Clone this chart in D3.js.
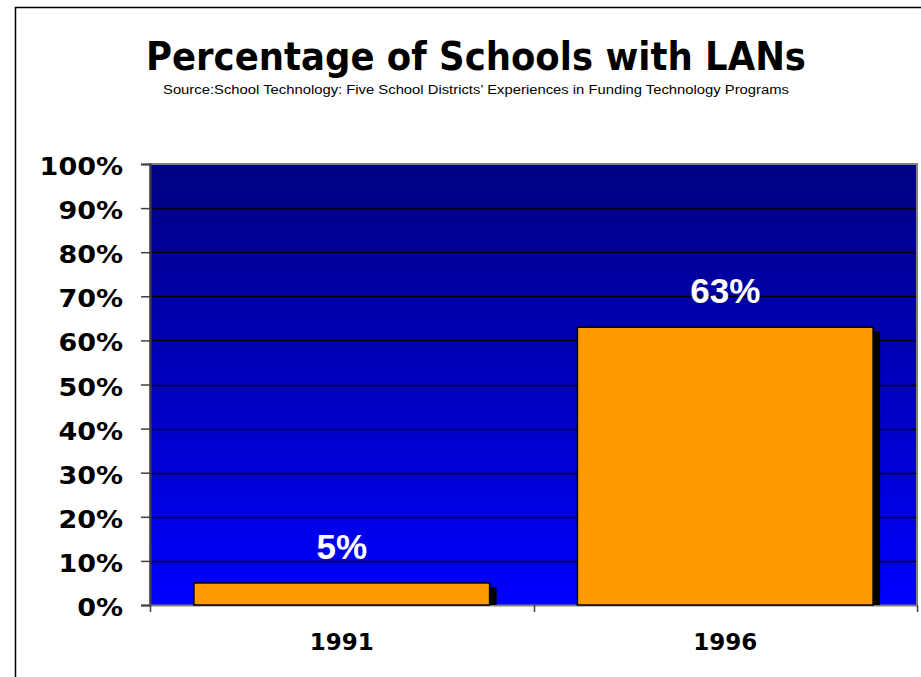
<!DOCTYPE html>
<html>
<head>
<meta charset="utf-8">
<script src="https://cdn.jsdelivr.net/npm/d3@7"></script>
<style>
  html, body { margin: 0; padding: 0; background: #fff; }
  svg { display: block; }
</style>
</head>
<body>
<svg id="chart" width="921" height="677"></svg>
<script>
// Chart data
const titleText = "Percentage of Schools with LANs";
const subtitleText = "Source:School Technology:  Five School Districts\u2019 Experiences in Funding Technology Programs";
const years = ["1991", "1996"];
const lanShare = [5, 63];
const yTicks = [0, 10, 20, 30, 40, 50, 60, 70, 80, 90, 100];

const svg = d3.select("#chart");
const plot = { left: 150, right: 917, top: 164, bottom: 605 };

// Outer frame (runs off the right and bottom edges)
svg.append("rect")
  .attr("x", 15.5).attr("y", 7.5)
  .attr("width", 940).attr("height", 700)
  .attr("fill", "#fff").attr("stroke", "#000").attr("stroke-width", 1.5);

// Title and source line, stretched to their printed widths
svg.append("text")
  .attr("x", 476).attr("y", 70)
  .attr("text-anchor", "middle")
  .attr("font-family", "DejaVu Sans, Verdana, sans-serif")
  .attr("font-weight", "bold")
  .attr("font-size", 39)
  .attr("fill", "#000")
  .attr("textLength", 660).attr("lengthAdjust", "spacingAndGlyphs")
  .text(titleText);

svg.append("text")
  .attr("x", 476).attr("y", 94)
  .attr("text-anchor", "middle")
  .attr("font-family", "Liberation Sans, Arial, sans-serif")
  .attr("font-size", 12)
  .attr("fill", "#000")
  .attr("textLength", 626).attr("lengthAdjust", "spacingAndGlyphs")
  .text(subtitleText);

// Scales
const x = d3.scaleBand().domain(years)
  .range([plot.left, plot.right])
  .paddingInner(0.229).paddingOuter(0.1145);
const xCat = d3.scaleBand().domain(years).range([plot.left, plot.right]);
const y = d3.scaleLinear().domain([0, 100]).range([plot.bottom, plot.top]);

// Plot background gradient
const defs = svg.append("defs");
const grad = defs.append("linearGradient")
  .attr("id", "plotBg").attr("x1", 0).attr("y1", 0).attr("x2", 0).attr("y2", 1);
grad.append("stop").attr("offset", "0%").attr("stop-color", "#000080");
grad.append("stop").attr("offset", "100%").attr("stop-color", "#0000FF");

svg.append("rect")
  .attr("x", plot.left).attr("y", plot.top)
  .attr("width", plot.right - plot.left).attr("height", plot.bottom - plot.top)
  .attr("fill", "url(#plotBg)");

// Gridlines
svg.append("g").selectAll("line")
  .data(yTicks.filter(t => t > 0 && t < 100))
  .join("line")
  .attr("x1", plot.left).attr("x2", plot.right)
  .attr("y1", d => Math.round(y(d)) + 0.5).attr("y2", d => Math.round(y(d)) + 0.5)
  .attr("stroke", "#000").attr("stroke-width", 1.5);

// Plot border
svg.append("path")
  .attr("d", `M${plot.left},${plot.bottom} V${plot.top} H${plot.right} V${plot.bottom}`)
  .attr("fill", "none").attr("stroke", "#808080").attr("stroke-width", 2);

// Y axis
const yAxis = svg.append("g")
  .attr("transform", `translate(${plot.left},0)`)
  .call(d3.axisLeft(y).tickValues(yTicks).tickFormat(d => d + "%").tickSize(9).tickPadding(18));
yAxis.select(".domain").attr("stroke", "#404040").attr("stroke-width", 2);
yAxis.selectAll(".tick line").attr("stroke", "#404040").attr("stroke-width", 1.5);
yAxis.selectAll(".tick text")
  .attr("font-family", "DejaVu Sans, Verdana, sans-serif")
  .attr("font-weight", "bold")
  .attr("font-size", 25)
  .attr("fill", "#000")
  .attr("textLength", function () { return this.getComputedTextLength() * 1.08; })
  .attr("lengthAdjust", "spacingAndGlyphs")
  .attr("dy", "0.42em");

// X axis
const xAxis = svg.append("g")
  .attr("transform", `translate(0,${plot.bottom})`)
  .call(d3.axisBottom(xCat).tickSize(0).tickPadding(29));
xAxis.select(".domain").attr("stroke", "#808080").attr("stroke-width", 2);
xAxis.selectAll(".tick text")
  .attr("font-family", "DejaVu Sans, Verdana, sans-serif")
  .attr("font-weight", "bold")
  .attr("font-size", 23)
  .attr("fill", "#000");
// Category separator ticks
const sepTicks = [plot.left, ...years.slice(1).map(d => xCat(d)), plot.right];
svg.append("g").selectAll("line").data(sepTicks).join("line")
  .attr("x1", d => Math.round(d) + 0.5).attr("x2", d => Math.round(d) + 0.5)
  .attr("y1", plot.bottom).attr("y2", plot.bottom + 7)
  .attr("stroke", "#404040").attr("stroke-width", 1.5);

// Bars with drop shadows
const rows = years.map((yr, i) => ({ year: yr, value: lanShare[i] }));
const bars = svg.append("g");
bars.selectAll("rect.shadow").data(rows).join("rect")
  .attr("class", "shadow")
  .attr("x", d => x(d.year) + 7)
  .attr("y", d => y(d.value) + 4)
  .attr("width", x.bandwidth())
  .attr("height", d => plot.bottom - y(d.value) - 4)
  .attr("fill", "#000");
bars.selectAll("rect.bar").data(rows).join("rect")
  .attr("class", "bar")
  .attr("x", d => x(d.year))
  .attr("y", d => y(d.value))
  .attr("width", x.bandwidth())
  .attr("height", d => plot.bottom - y(d.value))
  .attr("fill", "#FF9900")
  .attr("stroke", "#000").attr("stroke-width", 1.5);

// Value labels
svg.append("g").selectAll("text").data(rows).join("text")
  .attr("x", d => x(d.year) + x.bandwidth() / 2)
  .attr("y", d => y(d.value) - 24)
  .attr("text-anchor", "middle")
  .attr("font-family", "Liberation Sans, Arial, sans-serif")
  .attr("font-weight", "bold")
  .attr("font-size", 35)
  .attr("fill", "#fff")
  .text(d => d.value + "%");
</script>
</body>
</html>
